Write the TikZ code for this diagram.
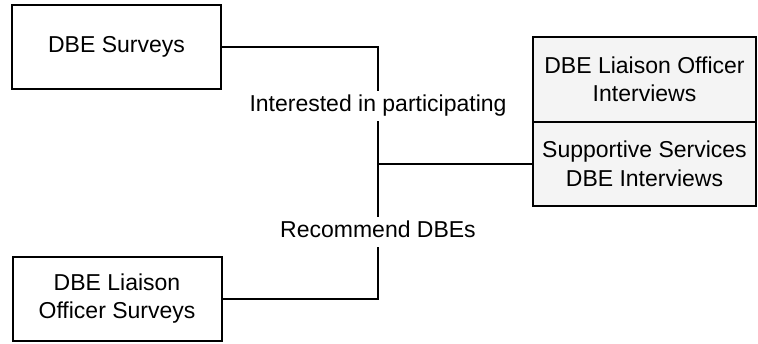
\documentclass[tikz,border=0pt]{standalone}
\usepackage{fontspec}
\setmainfont{Liberation Sans}
\definecolor{panelfill}{RGB}{244,244,244}
\begin{document}
\begin{tikzpicture}[x=1pt,y=-1pt,
  every node/.style={font=\fontsize{23}{28.5}\selectfont},
  source/.style={draw=black,line width=2pt,fill=white,minimum width=209pt,minimum height=84pt,inner sep=0pt,align=center},
  panel/.style={draw=black,line width=2pt,fill=panelfill,minimum width=223pt,inner sep=0pt,align=center},
  flowlabel/.style={inner sep=0pt,text height=20pt,text depth=10pt},
  link/.style={line width=2pt,line join=miter}]
  \useasboundingbox (0,0) rectangle (758,343);

  % survey sources on the left
  \node[source] (s1) at (116.5,47) {DBE Surveys};
  \node[source] (s2) at (117,298.5) {DBE Liaison\\Officer Surveys};

  % interview panel on the right
  \node[panel,minimum height=85pt] (r1) at (644.5,79.5) {DBE Liaison Officer\\Interviews};
  \node[panel,minimum height=84pt] (r2) at (644.5,164) {Supportive Services\\DBE Interviews};

  % connector labels and junction
  \node[flowlabel] (l1) at (378,106) {Interested in participating};
  \node[flowlabel] (l2) at (378,232) {Recommend DBEs};
  \coordinate (j) at (378,164);

  % connectors
  \draw[link] (s1.east) -| (l1.north);
  \draw[link] (l1.south) -- (j) -- (l2.north);
  \draw[link] (s2.east) -| (l2.south);
  \draw[link] (j) -- (r2.west);
\end{tikzpicture}
\end{document}
